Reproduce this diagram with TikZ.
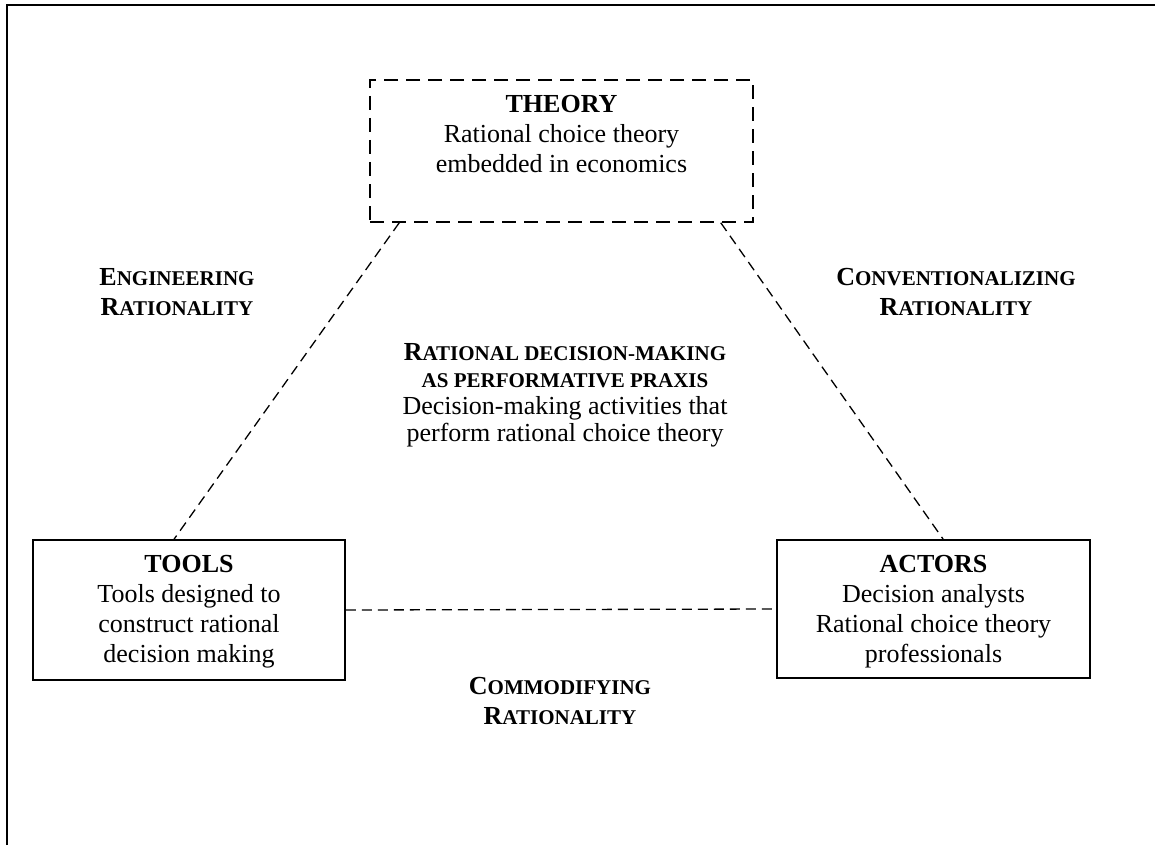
\documentclass[tikz,border=0pt]{standalone}
\usepackage{fontspec}
\setmainfont{Liberation Serif}
\usetikzlibrary{calc}
\newcommand{\smc}[1]{{\fontsize{21}{30}\selectfont #1}}
\newcommand{\smcc}[1]{{\fontsize{21}{27}\selectfont #1}}
\begin{document}
\begin{tikzpicture}[x=1pt,y=-1pt,
  solidbox/.style={draw=black,line width=1.8pt,inner sep=0pt},
  dashbox/.style={draw=black,line width=1.5pt,dash pattern=on 14pt off 8pt,inner sep=0pt},
  link/.style={draw=black,line width=1.3pt,dash pattern=on 10pt off 6pt},
  txt/.style={inner sep=0pt,align=center,font=\fontsize{26}{30}\selectfont},
  lab/.style={inner sep=0pt,align=center,font=\bfseries\fontsize{26}{30}\selectfont}]
\useasboundingbox (0,0) rectangle (1155,845);
\draw[line width=2.5pt] (7,845) -- (7,5) -- (1155,5);
% boxes
\node[dashbox,minimum width=383pt,minimum height=142pt] (theory) at (561.5,151) {};
\node[solidbox,minimum width=312pt,minimum height=140pt] (tools) at (189,610) {};
\node[solidbox,minimum width=313pt,minimum height=138pt] (actors) at (933.5,609) {};
% texts
\node[txt,anchor=north] (theorytxt) at (561.5,95) {\textbf{THEORY}\\Rational choice theory\\embedded in economics};
\node[txt,anchor=north] (toolstxt) at (189,555) {\textbf{TOOLS}\\Tools designed to\\construct rational\\decision making};
\node[txt,anchor=north] (actorstxt) at (933.5,555) {\textbf{ACTORS}\\Decision analysts\\Rational choice theory\\professionals};
\node[lab,anchor=north] (eng) at (177,268) {E\smc{NGINEERING}\\R\smc{ATIONALITY}};
\node[lab,anchor=north] (conv) at (956,268) {C\smc{ONVENTIONALIZING}\\R\smc{ATIONALITY}};
\node[lab,anchor=north] (comm) at (560,677) {C\smc{OMMODIFYING}\\R\smc{ATIONALITY}};
\node[txt,anchor=north,font=\fontsize{26}{27}\selectfont] (center) at (565,343)
  {\textbf{R\smcc{ATIONAL DECISION-MAKING}}\\\textbf{\smcc{AS PERFORMATIVE PRAXIS}}\\Decision-making activities that\\perform rational choice theory};
% connectors
\draw[link] ($(theory.south west)+(30,0)$) -- ($(tools.north west)+(142,0)$);
\draw[link] ($(theory.south east)+(-33,0)$) -- ($(actors.north west)+(167,0)$);
\draw[link] (tools.east) -- (actors.west);
\end{tikzpicture}
\end{document}
